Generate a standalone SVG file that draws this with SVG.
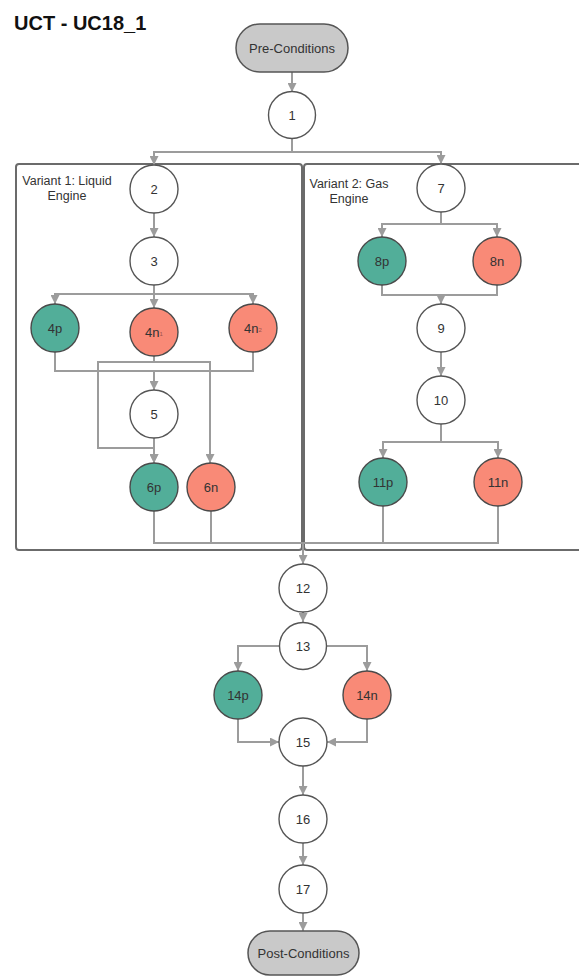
<svg xmlns="http://www.w3.org/2000/svg" width="579" height="978" viewBox="0 0 579 978">
  <style>
    .title { font-family: "Liberation Sans", Arial, sans-serif; font-weight: bold; font-size: 20px; fill: #111; }
    .lbl { font-family: "Liberation Sans", Arial, sans-serif; font-size: 13px; fill: #333; text-anchor: middle; dominant-baseline: central; }
    .vlbl { font-family: "Liberation Sans", Arial, sans-serif; font-size: 12.5px; fill: #333; text-anchor: middle; }
    .pill { fill: #c9c9c9; stroke: #555; stroke-width: 1.5; }
    .plain { fill: #fff; stroke: #555; stroke-width: 1.4; }
    .pos { fill: #52ae99; stroke: #4a4a4a; stroke-width: 1.4; }
    .neg { fill: #f98a77; stroke: #4a4a4a; stroke-width: 1.4; }
    .box { fill: none; stroke: #6b6b6b; stroke-width: 2; }
    .wire { fill: none; stroke: #9c9c9c; stroke-width: 2; }
    .sub { font-size: 6px; fill: #a0504a; }
  </style>
  <defs>
    <marker id="arrow" markerUnits="userSpaceOnUse" markerWidth="9" markerHeight="9" refX="9" refY="4.5" orient="auto">
      <path d="M0,0 L9,4.5 L0,9 Z" fill="#9c9c9c"/>
    </marker>
  </defs>

  <rect width="579" height="978" fill="#fff"/>

  <text class="title" x="14" y="30">UCT - UC18_1</text>

  <!-- variant containers -->
  <g id="variant1">
    <rect class="box" x="16" y="164" width="286" height="386" rx="3"/>
    <text class="vlbl" x="67" y="185">Variant 1: Liquid</text>
    <text class="vlbl" x="67" y="200">Engine</text>
  </g>
  <g id="variant2">
    <rect class="box" x="304" y="164" width="290" height="386" rx="3"/>
    <text class="vlbl" x="349" y="188">Variant 2: Gas</text>
    <text class="vlbl" x="349" y="203">Engine</text>
  </g>

  <!-- connectors -->
  <g id="connectors" class="wire" marker-end="url(#arrow)">
    <path d="M292,72 V92"/>
    <path d="M292,138 V152 H154 V165"/>
    <path d="M292,152 H441 V164"/>
    <path d="M154,213 V237"/>
    <path d="M154,285 V294 H55 V304"/>
    <path d="M154,294 V308"/>
    <path d="M154,294 H253 V304"/>
    <path d="M55,352 V371 H154 V390"/>
    <path d="M253,352 V371 H154" marker-end="none"/>
    <path d="M154,356 V362 H98 V448 H154 V463"/>
    <path d="M154,362 H210 V463"/>
    <path d="M154,438 V463"/>
    <path d="M154,511 V543 H303" marker-end="none"/>
    <path d="M211,511 V543" marker-end="none"/>
    <path d="M383,506 V543 H303" marker-end="none"/>
    <path d="M498,506 V543 H383" marker-end="none"/>
    <path d="M303,543 V564"/>
    <path d="M441,212 V224 H382 V237"/>
    <path d="M441,224 H497 V237"/>
    <path d="M382,285 V295 H441 V304"/>
    <path d="M497,285 V295 H441" marker-end="none"/>
    <path d="M441,352 V376"/>
    <path d="M441,424 V442 H383 V458"/>
    <path d="M441,442 H498 V458"/>
    <path d="M303,612 V622"/>
    <path d="M280,646 H238 V671"/>
    <path d="M326,646 H367 V671"/>
    <path d="M238,719 V742 H279"/>
    <path d="M367,719 V742 H327"/>
    <path d="M303,766 V795"/>
    <path d="M303,843 V865"/>
    <path d="M303,913 V931"/>
  </g>

  <!-- nodes -->
  <g id="pre"><rect class="pill" x="236" y="24" width="112" height="48" rx="24"/><text class="lbl" x="292" y="48">Pre-Conditions</text></g>
  <g id="n1"><circle class="plain" cx="292" cy="115" r="23.5"/><text class="lbl" x="292" y="115">1</text></g>
  <g id="n2"><circle class="plain" cx="154" cy="189" r="24"/><text class="lbl" x="154" y="189">2</text></g>
  <g id="n3"><circle class="plain" cx="154" cy="261" r="24"/><text class="lbl" x="154" y="261">3</text></g>
  <g id="n4p"><circle class="pos" cx="55" cy="328" r="24"/><text class="lbl" x="55" y="328">4p</text></g>
  <g id="n4n1"><circle class="neg" cx="154" cy="332" r="24"/><text class="lbl" x="154" y="332">4n<tspan class="sub" dy="2">1</tspan></text></g>
  <g id="n4n2"><circle class="neg" cx="253" cy="328" r="24"/><text class="lbl" x="253" y="328">4n<tspan class="sub" dy="2">2</tspan></text></g>
  <g id="n5"><circle class="plain" cx="154" cy="414" r="24"/><text class="lbl" x="154" y="414">5</text></g>
  <g id="n6p"><circle class="pos" cx="154" cy="487" r="24"/><text class="lbl" x="154" y="487">6p</text></g>
  <g id="n6n"><circle class="neg" cx="211" cy="487" r="24"/><text class="lbl" x="211" y="487">6n</text></g>
  <g id="n7"><circle class="plain" cx="441" cy="188" r="24"/><text class="lbl" x="441" y="188">7</text></g>
  <g id="n8p"><circle class="pos" cx="382" cy="261" r="24"/><text class="lbl" x="382" y="261">8p</text></g>
  <g id="n8n"><circle class="neg" cx="497" cy="261" r="24"/><text class="lbl" x="497" y="261">8n</text></g>
  <g id="n9"><circle class="plain" cx="441" cy="328" r="24"/><text class="lbl" x="441" y="328">9</text></g>
  <g id="n10"><circle class="plain" cx="441" cy="400" r="24"/><text class="lbl" x="441" y="400">10</text></g>
  <g id="n11p"><circle class="pos" cx="383" cy="482" r="24"/><text class="lbl" x="383" y="482">11p</text></g>
  <g id="n11n"><circle class="neg" cx="498" cy="482" r="24"/><text class="lbl" x="498" y="482">11n</text></g>
  <g id="n12"><circle class="plain" cx="303" cy="588" r="24"/><text class="lbl" x="303" y="588">12</text></g>
  <g id="n13"><circle class="plain" cx="303" cy="646" r="23.5"/><text class="lbl" x="303" y="646">13</text></g>
  <g id="n14p"><circle class="pos" cx="238" cy="695" r="24"/><text class="lbl" x="238" y="695">14p</text></g>
  <g id="n14n"><circle class="neg" cx="367" cy="695" r="24"/><text class="lbl" x="367" y="695">14n</text></g>
  <g id="n15"><circle class="plain" cx="303" cy="742" r="24"/><text class="lbl" x="303" y="742">15</text></g>
  <g id="n16"><circle class="plain" cx="303" cy="819" r="24"/><text class="lbl" x="303" y="819">16</text></g>
  <g id="n17"><circle class="plain" cx="303" cy="889" r="24"/><text class="lbl" x="303" y="889">17</text></g>
  <g id="post"><rect class="pill" x="248" y="931" width="111" height="44" rx="22"/><text class="lbl" x="303.5" y="953">Post-Conditions</text></g>
</svg>
